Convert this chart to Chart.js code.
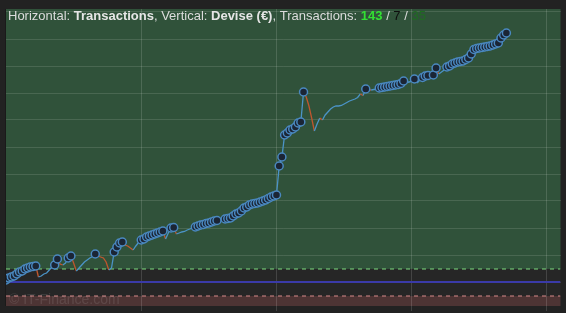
<!DOCTYPE html>
<html><head><meta charset="utf-8">
<script src="https://cdn.jsdelivr.net/npm/chart.js@4.4.0/dist/chart.umd.min.js"></script>
<style>html,body{margin:0;padding:0;background:#222;overflow:hidden}</style>
</head><body>
<canvas id="c" width="566" height="313"></canvas>
<script>
// Equity (€) after each transaction (index = transaction number)
const equity = [40,80,100,120,160,200,220,260,280,300,
 310,320,100,120,160,180,240,300,340,460,
 360,340,380,480,520,380,220,280,340,400,
 440,480,510,560,520,500,480,400,240,280,
 600,700,780,800,740,720,680,640,720,790,
 840,860,900,920,940,960,980,1000,1020,860,
 980,1080,1090,960,980,1000,1010,1040,1060,1080,
 1100,1120,1140,1150,1170,1180,1200,1220,1230,1210,
 1230,1260,1270,1280,1320,1360,1380,1420,1480,1500,
 1540,1560,1570,1580,1600,1620,1640,1670,1700,1720,
 1740,2320,2500,2940,2980,3040,3060,3100,3180,3200,
 3800,3700,3520,3280,3020,3160,3280,3240,3340,3400,
 3460,3500,3520,3520,3530,3560,3590,3620,3640,3660,
 3690,3760,3730,3860,3850,3840,3850,3855,3880,3890,
 3900,3910,3920,3930,3940,3950,3970,4020,3990,4000,
 4010,4060,3980,4040,4090,4120,4130,4110,4140,4280,
 4160,4200,4240,4300,4320,4360,4380,4400,4410,4420,
 4450,4480,4560,4650,4670,4680,4690,4700,4710,4720,
 4740,4760,4780,4880,4940,4980];
const gainLevel = 260;     // green dashed line
const baseLevel = 0;       // blue line
const lossLevel = -280;    // red dashed line
const xTickValues = [0, 50, 100, 150, 200];
const yTickValues = [0, 540, 1080, 1620, 2160, 2700, 3240, 3780, 4320, 4860, 5400];
const xRange = [0, 205];
const yRange = [-480, 5460];
const titleParts = [
  ['Horizontal: ', 'n', '#dcdcdc'], ['Transactions', 'b', '#e6e6e6'], [', Vertical: ', 'n', '#dcdcdc'],
  ['Devise (€)', 'b', '#e6e6e6'], [', Transactions: ', 'n', '#dcdcdc'], ['143', 'b', '#33e033'],
  [' / ', 'n', '#dcdcdc'], ['7', 'n', '#0d0d0d'], [' / ', 'n', '#dcdcdc'], ['35', 'n', '#1f6b22']
];
const watermark = '© IT-Finance.com';

const points = equity.map((v, i) => ({x: i, y: v}));
let runMax = -Infinity;
const isHigh = equity.map(v => { const h = v > runMax; if (h) runMax = v; return h; });
const BLUE = '#4b93c6', RED = '#c0562e';

const bgPlugin = {
  id: 'bg',
  beforeDraw(chart) {
    const {ctx, chartArea: a, scales: {y}} = chart;
    ctx.save();
    ctx.fillStyle = '#222222';
    ctx.fillRect(0, 0, chart.width, chart.height);
    const yg = y.getPixelForValue(gainLevel), yl = y.getPixelForValue(lossLevel);
    ctx.fillStyle = '#30523a';
    ctx.fillRect(a.left, a.top, a.right - a.left, yg - a.top);
    ctx.fillStyle = '#262626';
    ctx.fillRect(a.left, yg, a.right - a.left, yl - yg);
    ctx.fillStyle = '#4d3434';
    ctx.fillRect(a.left, yl, a.right - a.left, a.bottom - yl);
    ctx.restore();
  },
  afterDatasetsDraw(chart) {
    const {ctx, chartArea: a} = chart;
    ctx.save();
    ctx.font = '14px "Liberation Sans", Arial, sans-serif';
    ctx.fillStyle = 'rgba(255,255,255,0.10)';
    ctx.textBaseline = 'alphabetic';
    ctx.fillText(watermark, a.left + 3, a.bottom - 2);
    ctx.strokeStyle = '#1a1a1a';
    ctx.lineWidth = 1;
    ctx.beginPath(); ctx.moveTo(a.left - 0.5, a.top); ctx.lineTo(a.left - 0.5, a.bottom); ctx.stroke();
    // title
    let x = a.left + 2;
    const yb = a.top + 11;
    for (const [t, w, c] of titleParts) {
      ctx.font = (w === 'b' ? 'bold ' : '') + '13px "Liberation Sans", Arial, sans-serif';
      ctx.fillStyle = c;
      ctx.fillText(t, x, yb);
      x += ctx.measureText(t).width;
    }
    ctx.restore();
  }
};

const levelLine = (v, color, dash, width) => ({
  data: [{x: xRange[0], y: v}, {x: xRange[1], y: v}],
  borderColor: color, borderDash: dash, borderWidth: width,
  pointRadius: 0, fill: false, tension: 0, order: 2
});

new Chart(document.getElementById('c'), {
  type: 'line',
  data: {
    datasets: [
      levelLine(gainLevel, '#7fd87f', [4, 4], 1),
      levelLine(baseLevel, '#3a3aa8', [], 2),
      levelLine(lossLevel, '#d88a8a', [4, 4], 1),
      {
        data: points,
        order: 1,
        borderWidth: 1.3,
        borderColor: BLUE,
        segment: { borderColor: c => c.p1.parsed.y < c.p0.parsed.y ? RED : BLUE },
        pointRadius: c => isHigh[c.dataIndex] ? 4 : 0,
        pointBackgroundColor: '#1b2535',
        pointBorderColor: '#4a88bf',
        pointBorderWidth: 1.5,
        tension: 0, fill: false
      }
    ]
  },
  options: {
    responsive: false, animation: false, devicePixelRatio: 1,
    layout: { padding: { left: 6, top: 9, right: 5, bottom: 2 } },
    plugins: { legend: { display: false }, tooltip: { enabled: false } },
    scales: {
      x: {
        type: 'linear', min: xRange[0], max: xRange[1],
        afterBuildTicks: s => { s.ticks = xTickValues.map(v => ({value: v})); },
        ticks: { display: false },
        border: { display: false },
        grid: { color: c => c.tick && c.tick.value === 0 ? 'rgba(0,0,0,0)' : 'rgba(255,255,255,0.14)', tickLength: 5, drawTicks: true }
      },
      y: {
        type: 'linear', position: 'right', min: yRange[0], max: yRange[1],
        afterBuildTicks: s => { s.ticks = yTickValues.map(v => ({value: v})); },
        ticks: { display: false },
        border: { display: false },
        grid: { color: 'rgba(255,255,255,0.12)', drawTicks: false }
      }
    }
  },
  plugins: [bgPlugin]
});
</script>
</body></html>
